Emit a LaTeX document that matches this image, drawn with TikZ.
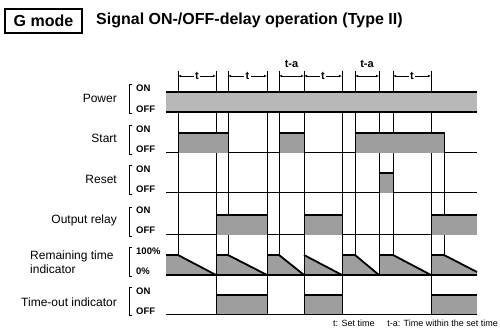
\documentclass[tikz,border=0pt]{standalone}
\usepackage{fontspec}
\setmainfont{Liberation Sans}
\usetikzlibrary{arrows.meta}
\begin{document}
\begin{tikzpicture}[x=1pt,y=-1pt,
  lab/.style={font=\fontsize{12}{13}\selectfont, inner sep=0pt},
  onoff/.style={font=\bfseries\fontsize{9.5}{10}\selectfont, inner sep=0pt, anchor=west},
  brk/.style={line width=0.6pt},
  base/.style={line width=1pt},
  thickline/.style={line width=1.8pt},
  sigbox/.style={fill=black!38, draw=black, line width=1pt},
  boxtop/.style={line width=2pt},
  vline/.style={line width=0.7pt},
  dim/.style={line width=0.7pt, {Latex[length=3pt,width=2.4pt]}-{Latex[length=3pt,width=2.4pt]}},
  dimlab/.style={font=\bfseries\fontsize{11}{12}\selectfont, fill=white, inner sep=1.5pt}
]
\useasboundingbox (0,0) rectangle (500,328);

% title
\node[draw, line width=1.1pt, minimum width=77pt, minimum height=24pt, inner sep=0pt,
  font=\bfseries\fontsize{16}{18}\selectfont] (gmode) at (43.5,21) {G mode};
\node[anchor=west, inner sep=0pt, font=\bfseries\fontsize{16}{18}\selectfont] (title) at (96,20)
  {Signal ON-/OFF-delay operation (Type II)};

% vertical transition lines
\foreach \x/\ya/\yb in {178/71/255, 216/71/314, 228/71/255, 267/71/314, 279/71/255,
  304/71/314, 342/71/314, 355/71/255, 379/71/275, 393/71/255, 431/71/314, 444/133/255}
  \draw[vline] (\x,\ya) -- (\x,\yb);

% dimension marks
\draw[dim] (178,76) -- node[dimlab] (d1) {t} (216,76);
\draw[dim] (228,76) -- node[dimlab] (d2) {t} (267,76);
\draw[dim] (279,76) -- (304,76);
\node[dimlab, fill=none] (d3) at (291.5,64) {t-a};
\draw[dim] (304,76) -- node[dimlab] (d4) {t} (342,76);
\draw[dim] (355,76) -- (379,76);
\node[dimlab, fill=none] (d5) at (367,64) {t-a};
\draw[dim] (393,76) -- node[dimlab] (d6) {t} (431,76);

% row labels, brackets, ON/OFF
\foreach \n/\t/\b in {pw/92/112, st/133/153, rs/173/193, ou/215/235, rm/255/275, to/295/314}{
  \draw[brk] (132,\t-8) -- (129.5,\t-8) -- (129.5,\b+1) -- (132,\b+1);
}
\node[lab, anchor=east] (lpw) at (117,98) {Power};
\node[lab, anchor=east] (lst) at (117,138) {Start};
\node[lab, anchor=east] (lrs) at (117,179) {Reset};
\node[lab, anchor=east] (lou) at (117,220) {Output relay};
\node[lab, anchor=west, align=left, font=\fontsize{12}{14}\selectfont] (lrm) at (30,262) {Remaining time\\indicator};
\node[lab, anchor=east] (lto) at (117,302) {Time-out indicator};

\node[onoff] (pwon) at (136,88) {ON};   \node[onoff] (pwoff) at (136,109) {OFF};
\node[onoff] (ston) at (136,129) {ON};  \node[onoff] (stoff) at (136,149) {OFF};
\node[onoff] (rson) at (136,169) {ON};  \node[onoff] (rsoff) at (136,189) {OFF};
\node[onoff] (ouon) at (136,210) {ON};  \node[onoff] (ouoff) at (136,230) {OFF};
\node[onoff] (rmon) at (136,251) {100\%}; \node[onoff] (rmoff) at (136,271) {0\%};
\node[onoff] (toon) at (136,291) {ON};  \node[onoff] (tooff) at (136,311) {OFF};

% power band
\fill[black!28] (166,92) rectangle (477,112);
\draw[thickline] (166,92) -- (477,92);
\draw[thickline] (166,112) -- (477,112);

% baselines
\foreach \y in {153,193,235,314}
  \draw[base] (166,\y) -- (477,\y);

% start
\foreach \a/\b in {178/228, 279/304, 355/444}{
  \filldraw[sigbox] (\a,153) -- (\a,133) -- (\b,133) -- (\b,153);
  \draw[boxtop] (\a,133) -- (\b,133);
}
% reset
\filldraw[sigbox] (379,193) -- (379,173) -- (393,173) -- (393,193);
\draw[boxtop] (379,173) -- (393,173);

% output relay and time-out indicator
\foreach \t/\b in {215/235, 295/314}{
  \foreach \a/\c in {216/267, 304/342}{
    \filldraw[sigbox] (\a,\b) -- (\a,\t) -- (\c,\t) -- (\c,\b);
    \draw[boxtop] (\a,\t) -- (\c,\t);
  }
  \fill[black!38] (431,\b) rectangle (477,\t);
  \draw[line width=1pt] (431,\b) -- (431,\t);
  \draw[boxtop] (431,\t) -- (477,\t);
}

% remaining time indicator
\fill[black!38] (166,255) -- (178,255) -- (216,275) -- (216,255) -- (228,255) -- (267,275)
  -- (267,255) -- (279,255) -- (304,275) -- (304,255) -- (342,275) -- (342,255) -- (355,255)
  -- (379,275) -- (379,255) -- (393,255) -- (431,275) -- (431,255) -- (444,255) -- (477,272)
  -- (477,275) -- (166,275) -- cycle;
\draw[line width=1.8pt, line join=miter] (166,255) -- (178,255) -- (216,275);
\draw[line width=1.8pt] (216,255) -- (228,255) -- (267,275);
\draw[line width=1.8pt] (267,255) -- (279,255) -- (304,275);
\draw[line width=1.8pt] (304,255) -- (342,275);
\draw[line width=1.8pt] (342,255) -- (355,255) -- (379,275);
\draw[line width=1.8pt] (379,255) -- (393,255) -- (431,275);
\draw[line width=1.8pt] (431,255) -- (444,255) -- (477,272);
\foreach \x in {216,267,304,342,379,431} \draw[line width=1pt] (\x,275) -- (\x,255);
\draw[line width=1.8pt] (166,275) -- (477,275);

% footer
\node[anchor=west, inner sep=0pt, font=\fontsize{9}{10}\selectfont] (f1) at (333,323) {t: Set time};
\node[anchor=east, inner sep=0pt, font=\fontsize{9}{10}\selectfont] (f2) at (498,323) {t-a: Time within the set time};
\end{tikzpicture}
\end{document}
